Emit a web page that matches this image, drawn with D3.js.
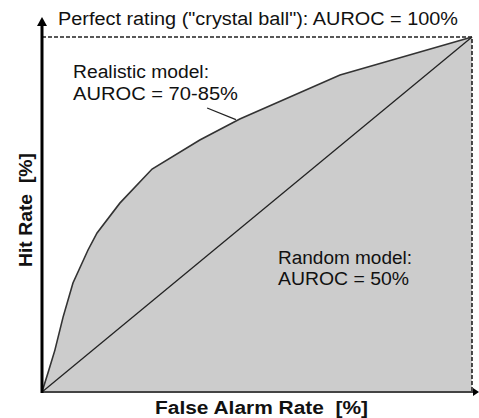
<!DOCTYPE html>
<html>
<head>
<meta charset="utf-8">
<script src="https://cdn.jsdelivr.net/npm/d3@7"></script>
<style>
  body { margin: 0; background: #fff; }
  text { font-family: Arial, "Liberation Sans", sans-serif; fill: #111; }
</style>
</head>
<body>
<div id="chart"></div>
<script>
// ROC curve of a "realistic" model (false alarm rate %, hit rate %)
var falseAlarm = [0, 1.4, 3.0, 4.9, 7.2, 10.7, 12.8, 18.1, 25.6, 36.7, 46.0, 69.3, 100];
var hitRate    = [0, 5.4, 11.8, 21.1, 30.7, 40.0, 44.8, 53.2, 62.8, 71.0, 76.9, 89.3, 100];

// random model diagonal and perfect model outline
var randomX = [0, 100], randomY = [0, 100];
var perfectX = [0, 100, 100], perfectY = [100, 100, 0];

// leader line from the label to the curve
var leaderX = [38.4, 45.1], leaderY = [80.0, 76.7];

var width = 479, height = 418;

var svg = d3.select("#chart")
  .append("svg")
  .attr("width", width)
  .attr("height", height);

var x = d3.scaleLinear().domain([0, 100]).range([42, 472]);
var y = d3.scaleLinear().domain([0, 100]).range([392, 37]);

var curve = falseAlarm.map(function(d, i) { return [d, hitRate[i]]; });

// grey area under the realistic curve
var area = d3.area()
  .x(function(d) { return x(d[0]); })
  .y0(function(d) { return y(0); })
  .y1(function(d) { return y(d[1]); });

svg.append("path")
  .datum(curve)
  .attr("d", area)
  .style("fill", "#cccccc");

var line = d3.line()
  .x(function(d) { return x(d[0]); })
  .y(function(d) { return y(d[1]); });

// perfect rating outline (dashed)
svg.append("path")
  .datum(perfectX.map(function(d, i) { return [d, perfectY[i]]; }))
  .attr("d", line)
  .style("fill", "none")
  .style("stroke", "#222")
  .style("stroke-width", 1.6)
  .style("stroke-dasharray", "4,2");

// realistic curve
svg.append("path")
  .datum(curve)
  .attr("d", line)
  .style("fill", "none")
  .style("stroke", "#333")
  .style("stroke-width", 1.6);

// random model diagonal
svg.append("path")
  .datum(randomX.map(function(d, i) { return [d, randomY[i]]; }))
  .attr("d", line)
  .style("fill", "none")
  .style("stroke", "#222")
  .style("stroke-width", 1.3);

// leader line
svg.append("path")
  .datum(leaderX.map(function(d, i) { return [d, leaderY[i]]; }))
  .attr("d", line)
  .style("fill", "none")
  .style("stroke", "#222")
  .style("stroke-width", 1.3);

// axes with arrows
svg.append("line")
  .attr("x1", x(0)).attr("y1", y(0))
  .attr("x2", x(100) + 2).attr("y2", y(0))
  .style("stroke", "#444")
  .style("stroke-width", 2);
svg.append("path")
  .attr("d", "M" + (x(100) + 7) + "," + y(0) + "l-6,-4l0,8z")
  .style("fill", "#000");

svg.append("line")
  .attr("x1", x(0)).attr("y1", y(0) + 1)
  .attr("x2", x(0)).attr("y2", 24)
  .style("stroke", "#000")
  .style("stroke-width", 3);
svg.append("path")
  .attr("d", "M" + x(0) + ",17l-5,9l10,0z")
  .style("fill", "#000");

// labels
function label(tx, ty, str, len) {
  return svg.append("text")
    .attr("x", tx).attr("y", ty)
    .attr("textLength", len)
    .attr("lengthAdjust", "spacingAndGlyphs")
    .style("font-size", "18px")
    .style("white-space", "pre")
    .text(str);
}

label(58, 25, 'Perfect rating ("crystal ball"): AUROC = 100%', 400);
label(73, 78, "Realistic model:", 136);
label(73, 100, "AUROC = 70-85%", 165);
label(278, 264, "Random model:", 134);
label(278, 285, "AUROC = 50%", 131);

label(155, 414, "False Alarm Rate  [%]", 213)
  .style("font-size", "18px")
  .style("font-weight", "bold");

svg.append("text")
  .attr("transform", "translate(32,267) rotate(-90)")
  .attr("textLength", 114)
  .attr("lengthAdjust", "spacingAndGlyphs")
  .style("font-size", "18px")
  .style("font-weight", "bold")
  .style("white-space", "pre")
  .text("Hit Rate  [%]");
</script>
</body>
</html>
